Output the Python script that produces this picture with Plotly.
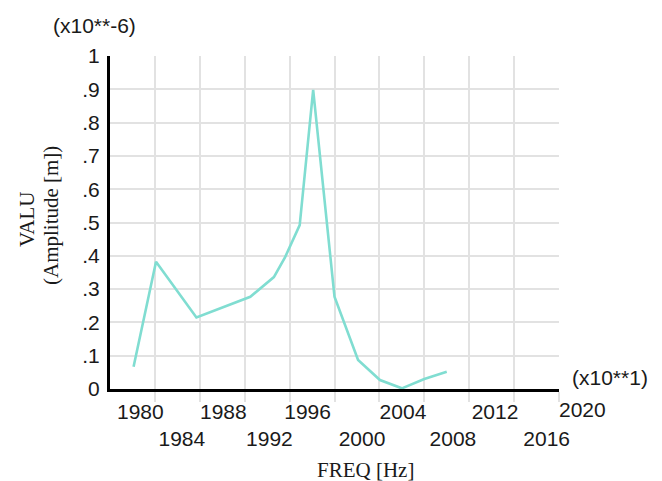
import plotly.graph_objects as go

# ---- data ----
freq = [1979.6, 1981.6, 1985.2, 1987.6, 1990.0, 1992.1, 1993.1, 1994.4, 1995.6,
        1997.5, 1999.6, 2001.55, 2003.5, 2005.5, 2007.5]
amp = [0.067, 0.382, 0.215, 0.245, 0.277, 0.336, 0.396, 0.492, 0.898,
       0.277, 0.087, 0.027, 0.002, 0.030, 0.052]

y_ticks = [0, 0.1, 0.2, 0.3, 0.4, 0.5, 0.6, 0.7, 0.8, 0.9, 1.0]
y_tick_labels = ["0", ".1", ".2", ".3", ".4", ".5", ".6", ".7", ".8", ".9", "1"]

x_labels_top = ["1980", "1988", "1996", "2004", "2012"]
x_labels_bottom = ["1984", "1992", "2000", "2008", "2016"]
x_label_last = "2020"
x_pos_top = [1980.2, 1987.6, 1995.1, 2003.6, 2011.8]
x_pos_bottom = [1983.9, 1991.7, 1999.95, 2008.05, 2016.4]
x_grid = [1981.5, 1985.5, 1989.5, 1993.5, 1997.5, 2001.5, 2005.5, 2009.5, 2013.5, 2017.5]

x_range = [1977.5, 2017.5]
SANS = "Liberation Sans, Arial, Helvetica, sans-serif"
SERIF = "Liberation Serif, Times New Roman, serif"
FS = 21
TXT = "#1a1a1a"

fig = go.Figure()
fig.add_trace(go.Scatter(x=freq, y=amp, mode="lines",
                         line=dict(color="#80ddd1", width=2.6),
                         showlegend=False, hoverinfo="skip"))
# helper traces so the label axes are drawn
fig.add_trace(go.Scatter(x=[x_pos_top[0]], y=[None], xaxis="x2", yaxis="y",
                         mode="markers", showlegend=False, hoverinfo="skip"))
fig.add_trace(go.Scatter(x=[x_pos_bottom[0]], y=[None], xaxis="x3", yaxis="y",
                         mode="markers", showlegend=False, hoverinfo="skip"))

fig.update_layout(
    width=662, height=481,
    margin=dict(l=110, r=103, t=56, b=92),
    paper_bgcolor="white", plot_bgcolor="white",
    font=dict(family=SANS, size=FS, color=TXT),
    xaxis=dict(range=x_range, tickmode="array", tickvals=x_grid, ticktext=[""] * len(x_grid),
               showgrid=True, gridcolor="#e2e2e2", gridwidth=1.5,
               ticks="outside", ticklen=10, tickcolor="#e2e2e2", tickwidth=1.5,
               showline=True, linecolor="black", linewidth=2.5, zeroline=False,
               fixedrange=True),
    xaxis2=dict(range=x_range, overlaying="x", anchor="y", side="bottom",
                tickmode="array", tickvals=x_pos_top, ticktext=x_labels_top,
                showgrid=False, showline=False, zeroline=False,
                ticks="outside", ticklen=4, tickcolor="rgba(0,0,0,0)",
                tickfont=dict(family=SANS, size=FS, color=TXT)),
    xaxis3=dict(range=x_range, overlaying="x", anchor="y", side="bottom",
                tickmode="array", tickvals=x_pos_bottom, ticktext=x_labels_bottom,
                showgrid=False, showline=False, zeroline=False,
                ticks="outside", ticklen=31, tickcolor="rgba(0,0,0,0)",
                tickfont=dict(family=SANS, size=FS, color=TXT)),
    yaxis=dict(range=[0, 1], tickmode="array", tickvals=y_ticks, ticktext=y_tick_labels,
               showgrid=True, gridcolor="#e2e2e2", gridwidth=1.5,
               showline=True, linecolor="black", linewidth=3, zeroline=False,
               ticks="outside", ticklen=3, tickcolor="rgba(0,0,0,0)",
               tickfont=dict(family=SANS, size=FS, color=TXT)),
)

# last x label sits beyond the axis end
fig.add_annotation(text=x_label_last, xref="paper", yref="paper", x=1.053, y=-0.063,
                   xanchor="center", yanchor="middle", showarrow=False,
                   font=dict(family=SANS, size=FS, color=TXT))
fig.add_annotation(text="(x10**-6)", xref="paper", yref="paper", x=-0.035, y=1.093,
                   xanchor="center", yanchor="middle", showarrow=False,
                   font=dict(family=SANS, size=FS, color=TXT))
fig.add_annotation(text="(x10**1)", xref="paper", yref="paper", x=1.113, y=0.036,
                   xanchor="center", yanchor="middle", showarrow=False,
                   font=dict(family=SANS, size=FS, color=TXT))
fig.add_annotation(text="FREQ [Hz]", xref="paper", yref="paper", x=0.568, y=-0.243,
                   xanchor="center", yanchor="middle", showarrow=False,
                   font=dict(family=SERIF, size=FS, color=TXT))
fig.add_annotation(text="VALU", xref="paper", yref="paper",
                   x=-0.185, y=0.51, xanchor="center", yanchor="middle",
                   textangle=-90, showarrow=False,
                   font=dict(family=SERIF, size=FS, color=TXT))
fig.add_annotation(text="(Amplitude [m])", xref="paper", yref="paper",
                   x=-0.131, y=0.52, xanchor="center", yanchor="middle",
                   textangle=-90, showarrow=False,
                   font=dict(family=SERIF, size=FS, color=TXT))

fig.write_html("out.html")
